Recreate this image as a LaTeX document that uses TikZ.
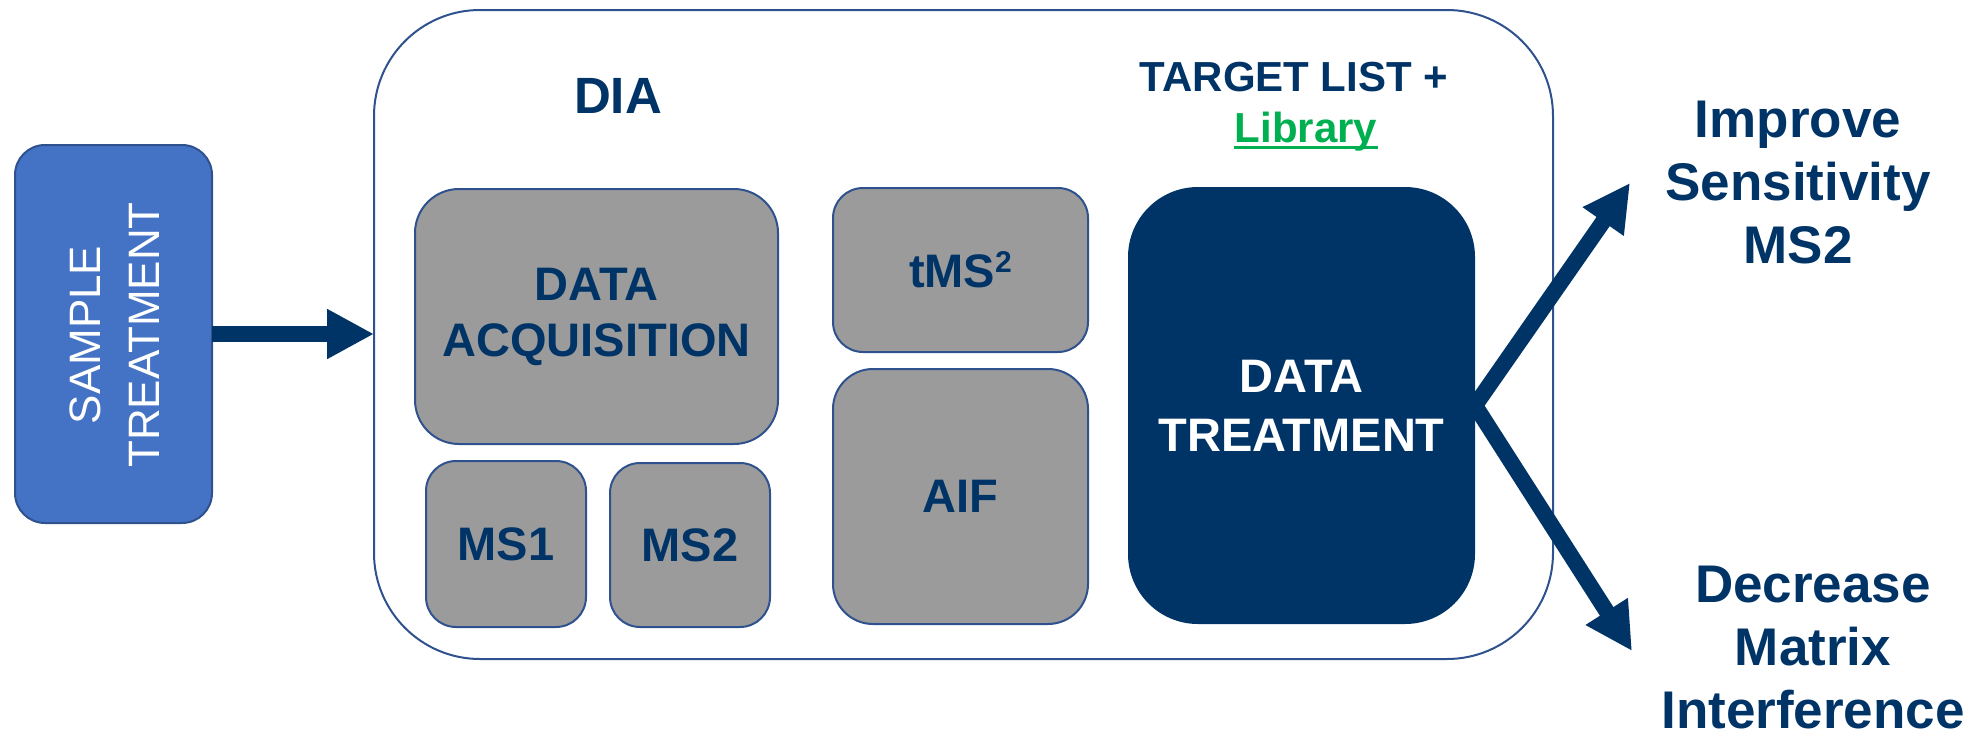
\documentclass[tikz,border=0pt]{standalone}
\usepackage{fontspec}
\setmainfont{Liberation Sans}
\usetikzlibrary{arrows.meta}
\definecolor{navy}{HTML}{003366}
\definecolor{boxgray}{HTML}{9B9B9B}
\definecolor{edgeblue}{HTML}{2F528F}
\definecolor{sampleblue}{HTML}{4472C4}
\definecolor{libgreen}{HTML}{00B050}
\begin{document}
\begin{tikzpicture}[x=0.5pt,y=-0.5pt,
  graybox/.style={draw=edgeblue, line width=1pt, fill=boxgray, inner sep=0pt, outer sep=0pt,
    text=navy, font=\bfseries\fontsize{23.5}{28}\selectfont, align=center},
  samplebox/.style={draw=edgeblue, line width=1pt, fill=sampleblue, inner sep=0pt, outer sep=0pt},
  mainbox/.style={draw=edgeblue, line width=1pt, inner sep=0pt, outer sep=0pt},
  treatbox/.style={fill=navy, inner sep=0pt, outer sep=0pt, text=white,
    font=\bfseries\fontsize{23.5}{29.5}\selectfont, align=center},
  righttext/.style={text=navy, font=\bfseries\fontsize{26.5}{31.5}\selectfont, align=center, inner sep=0pt},
  headtext/.style={text=navy, font=\bfseries\fontsize{21}{25}\selectfont, inner sep=0pt},
  bigarrow/.style={draw=navy, line width=8pt, -{Triangle[length=23.5pt,width=23.5pt]}}
]
\useasboundingbox (0,0) rectangle (1977,739);

% sample treatment
\node[samplebox, minimum width=98.5pt, minimum height=189pt, rounded corners=15pt] (sample) at (113.5,334) {};
\node[rotate=90, text=white, font=\fontsize{22}{29.5}\selectfont, align=center, inner sep=0pt] (sampletext) at (114.5,335) {SAMPLE\\TREATMENT};

% main DIA box
\node[mainbox, minimum width=589.5pt, minimum height=324.5pt, rounded corners=53pt] (dia) at (963.5,334.5) {};
\node[text=navy, font=\bfseries\fontsize{25.5}{30}\selectfont, inner sep=0pt] (dialabel) at (618,96) {DIA};

% header right
\node[headtext, anchor=base] (target) at (1294,91) {TARGET LIST +};
\node[headtext, anchor=base, text=libgreen] (library) at (1306,142) {Library};
\draw[libgreen, line width=1.3pt] ([yshift=-2.6pt]library.base west) -- ([yshift=-2.6pt]library.base east);

% gray boxes
\node[graybox, minimum width=181.5pt, minimum height=127.5pt, rounded corners=22pt] (acq) at (596.5,316.5) {DATA\\ACQUISITION};
\node[graybox, minimum width=80pt, minimum height=83pt, rounded corners=15pt] (msone) at (506,544) {MS1};
\node[graybox, minimum width=80pt, minimum height=82pt, rounded corners=15pt] (mstwo) at (690,545) {MS2};
\node[graybox, minimum width=127.5pt, minimum height=82pt, rounded corners=15pt] (tms) at (960.5,270) {tMS\raisebox{7.5pt}{\fontsize{15}{15}\selectfont 2}};
\node[graybox, minimum width=127.5pt, minimum height=127.5pt, rounded corners=20pt] (aif) at (960.5,496.5) {AIF};

% data treatment
\node[treatbox, minimum width=173.5pt, minimum height=218.5pt, rounded corners=35pt] (treat) at (1301.5,405.5) {DATA\\TREATMENT};

% arrows
\draw[bigarrow] (sample.east) -- (sample.east -| dia.west);
\coordinate (tipup) at (1630,183);
\coordinate (tipdown) at (1632,651);
\draw[bigarrow] (treat.east) -- (tipup);
\draw[bigarrow] (treat.east) -- (tipdown);

% right texts
\node[righttext] (improve) at (1798,183) {Improve\\Sensitivity\\MS2};
\node[righttext] (decrease) at (1813,648) {Decrease\\Matrix\\Interference};
\end{tikzpicture}
\end{document}
